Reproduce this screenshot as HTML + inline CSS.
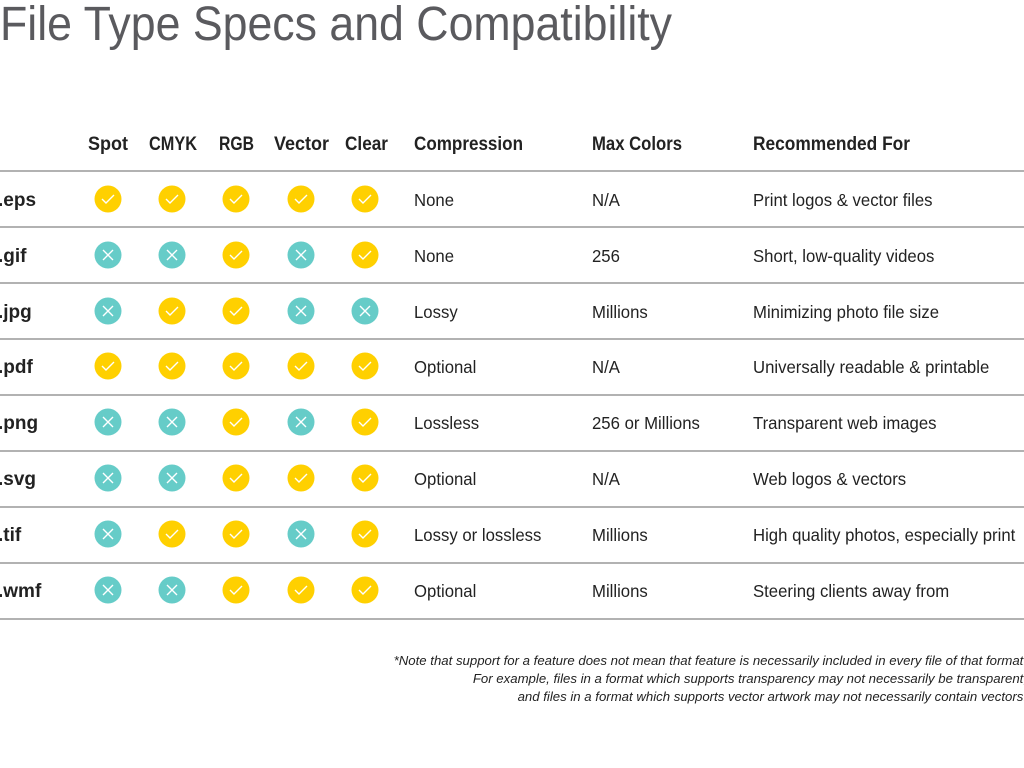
<!DOCTYPE html>
<html><head><meta charset="utf-8"><style>
html,body{margin:0;padding:0;background:#fff;overflow:hidden}
svg{display:block}
text{font-family:"Liberation Sans",sans-serif}
.h{font-weight:bold;font-size:19px;fill:#222}
.b{font-size:18px;fill:#222}
.f{font-weight:bold;font-size:19px;fill:#222}
.n{font-style:italic;font-size:13.2px;fill:#222}
</style></head><body>
<svg width="1024" height="768" viewBox="0 0 1024 768" xmlns="http://www.w3.org/2000/svg">
<defs>
<g id="y"><circle r="13.5" fill="#FFD000"/><path d="M-6,0 L-2,4 L6,-4" stroke="#fff" stroke-width="1.4" fill="none"/></g>
<g id="x"><circle r="13.5" fill="#66CCC8"/><path d="M-5,-5 L5,5 M5,-5 L-5,5" stroke="#fff" stroke-width="1.4" fill="none"/></g>
</defs>
<text x="0" y="40" font-size="48" fill="#5a5a5e" textLength="672" lengthAdjust="spacingAndGlyphs">File Type Specs and Compatibility</text>

<g class="h">
<text x="88" y="150" textLength="40" lengthAdjust="spacingAndGlyphs">Spot</text>
<text x="149" y="150" textLength="48" lengthAdjust="spacingAndGlyphs">CMYK</text>
<text x="219" y="150" textLength="35" lengthAdjust="spacingAndGlyphs">RGB</text>
<text x="274" y="150" textLength="55" lengthAdjust="spacingAndGlyphs">Vector</text>
<text x="345" y="150" textLength="43" lengthAdjust="spacingAndGlyphs">Clear</text>
<text x="414" y="150" textLength="109" lengthAdjust="spacingAndGlyphs">Compression</text>
<text x="592" y="150" textLength="90" lengthAdjust="spacingAndGlyphs">Max Colors</text>
<text x="753" y="150" textLength="157" lengthAdjust="spacingAndGlyphs">Recommended For</text>
</g>

<g stroke="#666" stroke-width="1">
<line x1="0" y1="171" x2="1024" y2="171"/><line x1="0" y1="227" x2="1024" y2="227"/>
<line x1="0" y1="283" x2="1024" y2="283"/><line x1="0" y1="339" x2="1024" y2="339"/>
<line x1="0" y1="395" x2="1024" y2="395"/><line x1="0" y1="451" x2="1024" y2="451"/>
<line x1="0" y1="507" x2="1024" y2="507"/><line x1="0" y1="563" x2="1024" y2="563"/>
<line x1="0" y1="619" x2="1024" y2="619"/>
</g>

<g>
<text class="f" x="-2" y="206">.eps</text>
<text class="f" x="-2" y="262">.gif</text>
<text class="f" x="-2" y="318">.jpg</text>
<text class="f" x="-2" y="373">.pdf</text>
<text class="f" x="-2" y="429">.png</text>
<text class="f" x="-2" y="485">.svg</text>
<text class="f" x="-2" y="541">.tif</text>
<text class="f" x="-2" y="597">.wmf</text>
</g>

<use href="#y" x="108" y="199"/><use href="#y" x="172" y="199"/><use href="#y" x="236" y="199"/><use href="#y" x="301" y="199"/><use href="#y" x="365" y="199"/>
<use href="#x" x="108" y="255"/><use href="#x" x="172" y="255"/><use href="#y" x="236" y="255"/><use href="#x" x="301" y="255"/><use href="#y" x="365" y="255"/>
<use href="#x" x="108" y="311"/><use href="#y" x="172" y="311"/><use href="#y" x="236" y="311"/><use href="#x" x="301" y="311"/><use href="#x" x="365" y="311"/>
<use href="#y" x="108" y="366"/><use href="#y" x="172" y="366"/><use href="#y" x="236" y="366"/><use href="#y" x="301" y="366"/><use href="#y" x="365" y="366"/>
<use href="#x" x="108" y="422"/><use href="#x" x="172" y="422"/><use href="#y" x="236" y="422"/><use href="#x" x="301" y="422"/><use href="#y" x="365" y="422"/>
<use href="#x" x="108" y="478"/><use href="#x" x="172" y="478"/><use href="#y" x="236" y="478"/><use href="#y" x="301" y="478"/><use href="#y" x="365" y="478"/>
<use href="#x" x="108" y="534"/><use href="#y" x="172" y="534"/><use href="#y" x="236" y="534"/><use href="#x" x="301" y="534"/><use href="#y" x="365" y="534"/>
<use href="#x" x="108" y="590"/><use href="#x" x="172" y="590"/><use href="#y" x="236" y="590"/><use href="#y" x="301" y="590"/><use href="#y" x="365" y="590"/>

<g class="b" transform="translate(414,0) scale(0.93,1)">
<text x="0" y="206">None</text><text x="0" y="262">None</text><text x="0" y="318">Lossy</text>
<text x="0" y="373">Optional</text><text x="0" y="429">Lossless</text><text x="0" y="485">Optional</text>
<text x="0" y="541">Lossy or lossless</text><text x="0" y="597">Optional</text>
</g>
<g class="b" transform="translate(592,0) scale(0.93,1)">
<text x="0" y="206">N/A</text><text x="0" y="262">256</text><text x="0" y="318">Millions</text>
<text x="0" y="373">N/A</text><text x="0" y="429">256 or Millions</text><text x="0" y="485">N/A</text>
<text x="0" y="541">Millions</text><text x="0" y="597">Millions</text>
</g>
<g class="b" transform="translate(753,0) scale(0.93,1)">
<text x="0" y="206">Print logos &amp; vector files</text>
<text x="0" y="262">Short, low-quality videos</text>
<text x="0" y="318">Minimizing photo file size</text>
<text x="0" y="373">Universally readable &amp; printable</text>
<text x="0" y="429">Transparent web images</text>
<text x="0" y="485">Web logos &amp; vectors</text>
<text x="0" y="541">High quality photos, especially print</text>
<text x="0" y="597">Steering clients away from</text>
</g>

<g class="n" text-anchor="end">
<text x="1027" y="665">*Note that support for a feature does not mean that feature is necessarily included in every file of that format.</text>
<text x="1027" y="683">For example, files in a format which supports transparency may not necessarily be transparent,</text>
<text x="1027" y="701">and files in a format which supports vector artwork may not necessarily contain vectors.</text>
</g>
</svg>
</body></html>
